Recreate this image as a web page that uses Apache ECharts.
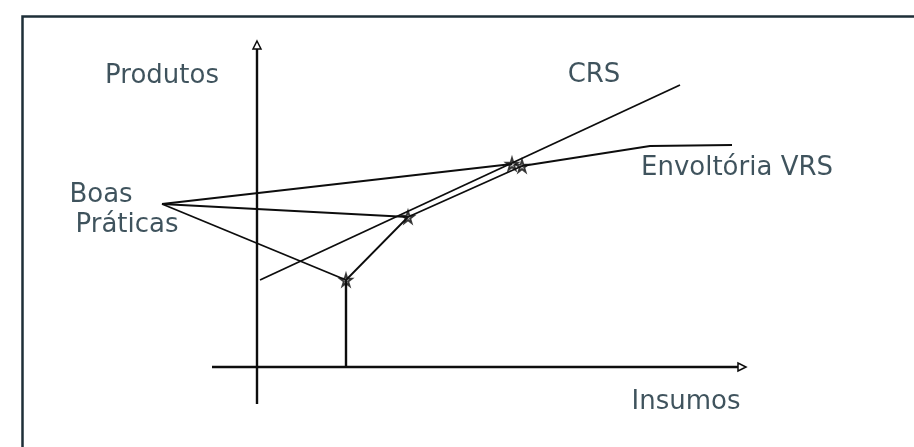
<!DOCTYPE html>
<html>
<head>
<meta charset="utf-8">
<script src="https://cdn.jsdelivr.net/npm/echarts@6/dist/echarts.min.js"></script>
<style>
html,body{margin:0;padding:0;background:#fff;}
#chart{width:914px;height:447px;}
</style>
</head>
<body>
<div id="chart"></div>
<script>
// Conceptual diagram coordinates (Insumos, Produtos)
const axisInsumos = [[-4.5, 0], [48.5, 0]];
const axisProdutos = [[0, -3.7], [0, 32.2]];
const crsLine = [[0.3, 8.7], [42.3, 28.2]];
const vrsEnvelope = [[8.9, 8.7], [15.1, 15.0], [26.5, 20.1], [39.3, 22.1], [47.5, 22.2]];
const dropLine = [[8.9, 0], [8.9, 8.7]];
const boasPraticas = [-9.5, 16.3];
const efficientDMUs = [[8.9, 8.7], [15.1, 15.0], [25.5, 20.3], [26.5, 20.1]];
const rayTargets = [[25.5, 20.3], [15.1, 15.0], [8.9, 8.7]];
const labelNames = ['Produtos', 'CRS', 'Envoltória VRS', 'Boas', 'Práticas', 'Insumos'];
const labelPos = [[-9.5, 29.1], [33.7, 29.2], [48.0, 19.9], [-15.6, 17.2], [-13.0, 14.2], [42.9, -3.5]];

const LINE = '#0d0d0d';
const TEXT = '#0f2834';
const FONT = 'DejaVu Sans';
const starPath = 'path://M50,0 L61,35 L98,35 L68,57 L79,91 L50,70 L21,91 L32,57 L2,35 L39,35 Z';

function seg(data, width) {
  return {
    type: 'line', data: data, symbol: 'none', clip: false, silent: true,
    lineStyle: { color: LINE, width: width || 1.8 }, z: 3
  };
}

const series = [];
// axes drawn as lines with hollow arrowheads
series.push(Object.assign(seg(axisInsumos, 2.4), {
  data: [axisInsumos[0], { value: axisInsumos[1], symbol: 'triangle', symbolSize: 8, symbolRotate: -90 }],
  symbol: 'none', showSymbol: true,
  itemStyle: { color: '#fff', borderColor: LINE, borderWidth: 1.5 }
}));
series.push(Object.assign(seg(axisProdutos, 2.4), {
  data: [axisProdutos[0], { value: axisProdutos[1], symbol: 'triangle', symbolSize: 8 }],
  symbol: 'none', showSymbol: true,
  itemStyle: { color: '#fff', borderColor: LINE, borderWidth: 1.5 }
}));
series.push(seg(crsLine, 1.8));
series.push(seg(vrsEnvelope, 1.8));
series.push(seg(dropLine, 2.4));
rayTargets.forEach(function (t) { series.push(seg([boasPraticas, t], 1.8)); });

series.push({
  type: 'scatter', data: efficientDMUs, symbol: starPath, symbolSize: 12, clip: false, silent: true,
  itemStyle: { color: 'rgba(40,40,40,0.4)', borderColor: LINE, borderWidth: 1.8 }, z: 5
});

series.push({
  type: 'scatter', clip: false, silent: true, symbolSize: 0,
  data: labelNames.map(function (n, i) { return { name: n, value: labelPos[i] }; }),
  label: {
    show: true, position: 'inside', formatter: '{b}',
    color: TEXT, fontFamily: FONT, fontSize: 26, align: 'center', verticalAlign: 'middle'
  },
  z: 6
});

const chart = echarts.init(document.getElementById('chart'), null, { renderer: 'canvas' });
chart.setOption({
  animation: false,
  backgroundColor: '#ffffff',
  grid: { left: 0, right: 0, top: 0, bottom: 0 },
  xAxis: { type: 'value', min: -25.7, max: 65.7, show: false },
  yAxis: { type: 'value', min: -8.0, max: 36.7, show: false },
  graphic: [{
    type: 'rect', left: 20, top: 14, silent: true,
    shape: { width: 1200, height: 800 },
    style: { fill: 'none', stroke: '#1e2f38', lineWidth: 2.5 }
  }],
  series: series
});
</script>
</body>
</html>
